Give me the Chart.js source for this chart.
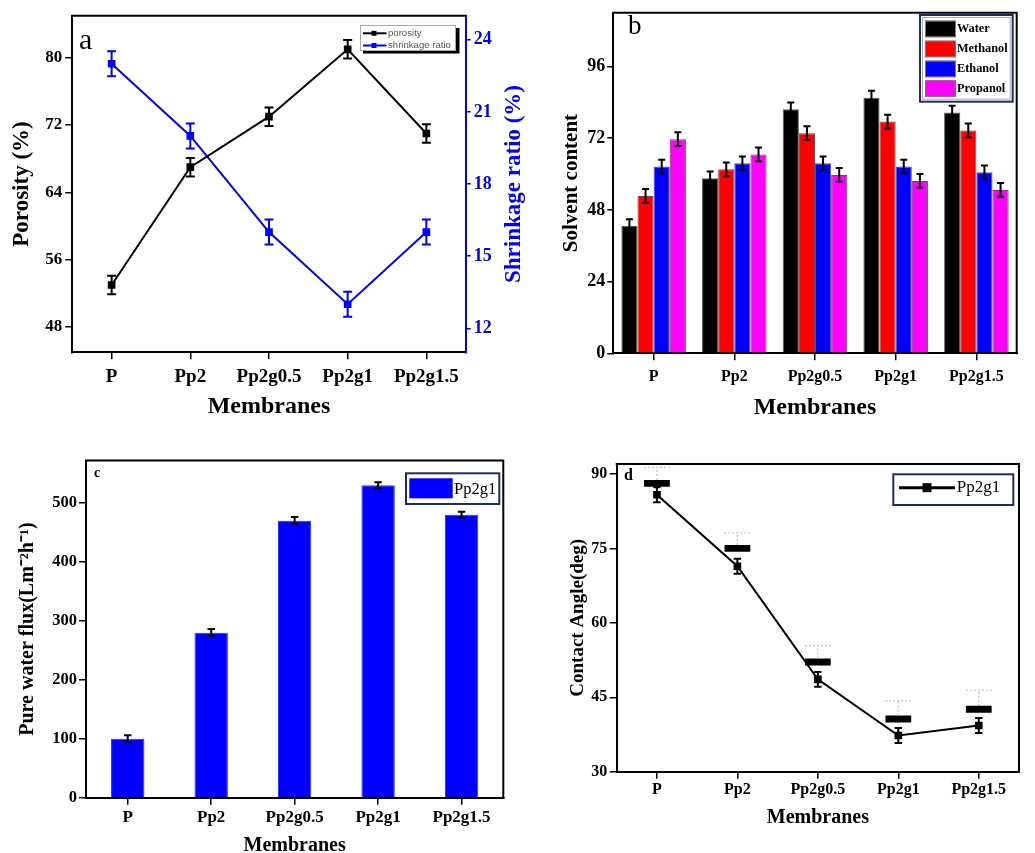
<!DOCTYPE html>
<html><head><meta charset="utf-8">
<script src="https://cdn.jsdelivr.net/npm/chart.js@4.4.0/dist/chart.umd.min.js"></script>
<style>
html,body{margin:0;padding:0;background:#fff;overflow:hidden;width:1035px;height:853px;}
canvas{position:absolute;}
</style>
</head><body>
<canvas id="ca" width="540" height="430" style="left:0;top:0"></canvas>
<canvas id="cb" width="495" height="430" style="left:540px;top:0"></canvas>
<canvas id="cc" width="540" height="440" style="left:0;top:430px"></canvas>
<canvas id="cd" width="495" height="440" style="left:540px;top:430px"></canvas>
<script>
// ---------- DATA ----------
const categories = ['P', 'Pp2', 'Pp2g0.5', 'Pp2g1', 'Pp2g1.5'];

// panel a
const porosity = [53, 67, 73, 81, 71];
const porosityErr = [1.1, 1.1, 1.1, 1.1, 1.1];
const shrinkage = [23, 20, 16, 13, 16];
const shrinkageErr = [0.52, 0.52, 0.52, 0.52, 0.52];
const porosityTicks = [48, 56, 64, 72, 80];
const shrinkageTicks = [12, 15, 18, 21, 24];

// panel b
const water = [42.6, 58.6, 81.7, 85.6, 80.6];
const methanol = [52.7, 61.6, 73.7, 77.6, 74.6];
const ethanol = [62.5, 63.6, 63.6, 62.5, 60.6];
const propanol = [71.7, 66.6, 59.7, 57.7, 54.7];
const solventErr = [2.3, 2.3, 2.3, 2.3, 2.3];
const solventTicks = [0, 24, 48, 72, 96];

// panel c
const flux = [100, 280, 470, 530, 480];
const fluxErr = [6, 6, 6, 5, 5];
const fluxTicks = [0, 100, 200, 300, 400, 500];

// panel d
const contactAngle = [85.8, 71.4, 48.6, 37.3, 39.3];
const contactAngleErr = [1.5, 1.5, 1.5, 1.5, 1.5];
const angleBox = [88.1, 75.0, 52.1, 40.6, 42.6];
const angleBoxWhisker = [91.3, 78.1, 55.4, 44.3, 46.4];
const angleTicks = [30, 45, 60, 75, 90];

// ---------- HELPERS ----------
const SERIF = '"Liberation Serif", "Times New Roman", serif';
const SANS = '"Liberation Sans", Arial, sans-serif';
Chart.defaults.color = '#000';
Chart.defaults.font.family = SERIF;
Chart.defaults.animation = false;
Chart.defaults.plugins.tooltip.enabled = false;
Chart.defaults.plugins.legend.display = false;

const BLUE = '#0000ff';

function tickGrid(len, color) {
  return {display: true, drawOnChartArea: false, drawTicks: true, tickLength: len,
          color: color || '#000', lineWidth: 1.5, offset: false};
}
function border(color) { return {display: true, color: color || '#000', width: 2}; }
function fixedTicks(arr) { return function (s) { s.ticks = arr.map(v => ({value: v})); }; }
function bold(size) { return {family: SERIF, size: size, weight: 'bold'}; }

const errorBarPlugin = {
  id: 'errbars',
  afterDatasetsDraw(chart) {
    const ctx = chart.ctx;
    chart.data.datasets.forEach((ds, di) => {
      const eb = ds.errorBars; if (!eb) return;
      const meta = chart.getDatasetMeta(di);
      const scale = chart.scales[meta.yAxisID];
      ctx.save();
      ctx.strokeStyle = eb.color; ctx.lineWidth = eb.width || 1.5;
      if (eb.dash) ctx.setLineDash(eb.dash);
      meta.data.forEach((el, i) => {
        const raw = ds.data[i];
        const v = Array.isArray(raw) ? raw[1] : raw;
        let lo, hi;
        if (eb.upper) { lo = v; hi = eb.upper[i]; } else { lo = v - eb.err[i]; hi = v + eb.err[i]; }
        const x = el.x, y1 = scale.getPixelForValue(lo), y2 = scale.getPixelForValue(hi);
        const c = eb.cap;
        ctx.beginPath();
        ctx.moveTo(x, y1); ctx.lineTo(x, y2);
        if (!eb.upper) { ctx.moveTo(x - c, y1); ctx.lineTo(x + c, y1); }
        ctx.moveTo(x - c, y2); ctx.lineTo(x + c, y2);
        ctx.stroke();
      });
      ctx.restore();
    });
  }
};

function deco(draw) {
  return {id: 'deco', afterDraw(chart) { const ctx = chart.ctx; ctx.save(); draw(ctx, chart); ctx.restore(); }};
}
function frame(ctx, ca, drawRight) {
  ctx.strokeStyle = '#000'; ctx.lineWidth = 2;
  ctx.beginPath();
  ctx.moveTo(ca.left - 1, ca.top); ctx.lineTo(ca.right + 1, ca.top);
  if (drawRight) { ctx.moveTo(ca.right, ca.top); ctx.lineTo(ca.right, ca.bottom + 1); }
  ctx.stroke();
}
function text(ctx, str, x, y, font, color, align, rot) {
  ctx.save();
  ctx.font = font; ctx.fillStyle = color || '#000';
  ctx.textAlign = align || 'left'; ctx.textBaseline = 'middle';
  ctx.translate(x, y); if (rot) ctx.rotate(rot);
  ctx.fillText(str, 0, 0);
  ctx.restore();
}

// ---------- PANEL A ----------
new Chart(document.getElementById('ca'), {
  type: 'line',
  data: {
    labels: categories,
    datasets: [
      {label: 'porosity', data: porosity, yAxisID: 'y', borderColor: '#000', backgroundColor: '#000',
       borderWidth: 2, pointStyle: 'rect', pointRadius: 4, tension: 0,
       errorBars: {err: porosityErr, color: '#000', cap: 4.5, width: 2}},
      {label: 'shrinkage ratio', data: shrinkage, yAxisID: 'y1', borderColor: BLUE, backgroundColor: BLUE,
       borderWidth: 2, pointStyle: 'rect', pointRadius: 4, tension: 0,
       errorBars: {err: shrinkageErr, color: BLUE, cap: 4.5, width: 2}}
    ]
  },
  options: {
    responsive: false,
    layout: {padding: {top: 15.7, left: 0, right: 0, bottom: 0}},
    scales: {
      x: {type: 'category', offset: true, grid: tickGrid(7), border: border(),
          ticks: {font: bold(19), padding: 6, maxRotation: 0, autoSkip: false},
          title: {display: true, text: 'Membranes', font: bold(24), padding: {top: 0, bottom: 9}},
          afterFit(s) { s.height = 77.7; }},
      y: {position: 'left', min: 45, max: 85, afterBuildTicks: fixedTicks(porosityTicks),
          grid: tickGrid(7), border: border(),
          ticks: {font: bold(17), padding: 3},
          title: {display: true, text: 'Porosity (%)', font: bold(23), padding: {top: 8.5, bottom: 0}},
          afterFit(s) { s.width = 72.3; }},
      y1: {position: 'right', min: 11, max: 25, afterBuildTicks: fixedTicks(shrinkageTicks),
           grid: tickGrid(5, BLUE), border: border(BLUE),
           ticks: {font: bold(18), padding: 3, color: BLUE},
           afterFit(s) { s.width = 74.3; }}
    }
  },
  plugins: [errorBarPlugin, deco((ctx, chart) => {
    const ca = chart.chartArea;
    frame(ctx, ca, false);
    text(ctx, 'Shrinkage ratio (%)', 514, (ca.top + ca.bottom) / 2, 'bold 23px ' + SERIF, BLUE, 'center', -Math.PI / 2);
    text(ctx, 'a', 79, 41, '30px ' + SERIF, '#000', 'left');
    // legend
    ctx.fillStyle = '#000'; ctx.fillRect(363, 28, 96.5, 25.5);
    ctx.fillStyle = '#fff'; ctx.fillRect(360, 25, 96, 26);
    ctx.strokeStyle = '#aaa'; ctx.lineWidth = 1; ctx.strokeRect(360.5, 25.5, 95, 25);
    const rows = [['porosity', '#000', 33.3], ['shrinkage ratio', BLUE, 45.5]];
    rows.forEach(r => {
      ctx.strokeStyle = r[1]; ctx.lineWidth = 2;
      ctx.beginPath(); ctx.moveTo(363, r[2]); ctx.lineTo(386.5, r[2]); ctx.stroke();
      ctx.fillStyle = r[1]; ctx.fillRect(371.5, r[2] - 2.5, 5, 5);
      text(ctx, r[0], 388, r[2], '9.6px ' + SANS, '#555', 'left');
    });
  })]
});

// ---------- PANEL B ----------
function solventDs(label, data, color) {
  return {label: label, data: data, backgroundColor: color, borderColor: '#555', borderWidth: 1,
          categoryPercentage: 0.8, barPercentage: 1.0,
          errorBars: {err: solventErr, color: '#000', cap: 3.5, width: 2}};
}
new Chart(document.getElementById('cb'), {
  type: 'bar',
  data: {
    labels: categories,
    datasets: [
      solventDs('Water', water, '#000000'),
      solventDs('Methanol', methanol, '#ff0000'),
      solventDs('Ethanol', ethanol, '#0000ff'),
      solventDs('Propanol', propanol, '#ff00ff')
    ]
  },
  options: {
    responsive: false,
    layout: {padding: {top: 11.7, left: 0, right: 18.3, bottom: 0}},
    scales: {
      x: {type: 'category', offset: true, grid: tickGrid(7), border: border(),
          ticks: {font: bold(16), padding: 6.8, maxRotation: 0, autoSkip: false},
          title: {display: true, text: 'Membranes', font: bold(24), padding: {top: 0, bottom: 8.3}},
          afterFit(s) { s.height = 76.7; }},
      y: {position: 'left', min: 0, max: 114, afterBuildTicks: fixedTicks(solventTicks),
          grid: tickGrid(6), border: border(),
          ticks: {font: bold(18), padding: 2},
          title: {display: true, text: 'Solvent content', font: bold(21), padding: {top: 19, bottom: 0}},
          afterFit(s) { s.width = 73.3; }}
    }
  },
  plugins: [errorBarPlugin, deco((ctx, chart) => {
    const ca = chart.chartArea;
    frame(ctx, ca, true);
    text(ctx, 'b', 88, 27, '27px ' + SERIF, '#000', 'left');
    // legend
    ctx.fillStyle = '#fff'; ctx.fillRect(380, 15, 92.7, 86.7);
    ctx.strokeStyle = '#1f2d5a'; ctx.lineWidth = 2; ctx.strokeRect(380, 15, 92.7, 86.7);
    ctx.strokeStyle = '#aab'; ctx.lineWidth = 1; ctx.strokeRect(382.5, 17.5, 87.7, 81.7);
    const items = [['Water', '#000000', 20.7], ['Methanol', '#ff0000', 40.7], ['Ethanol', '#0000ff', 60.7], ['Propanol', '#ff00ff', 80.3]];
    items.forEach(it => {
      ctx.fillStyle = it[1]; ctx.fillRect(385, it[2], 31, 16.5);
      ctx.strokeStyle = '#777'; ctx.lineWidth = 1; ctx.strokeRect(385.5, it[2] + 0.5, 30, 15.5);
      text(ctx, it[0], 417, it[2] + 8.5, 'bold 12.3px ' + SERIF, '#000', 'left');
    });
  })]
});

// ---------- PANEL C ----------
new Chart(document.getElementById('cc'), {
  type: 'bar',
  data: {
    labels: categories,
    datasets: [
      {label: 'Pp2g1', data: flux, backgroundColor: BLUE, borderColor: '#2a2aff', borderWidth: 1,
       categoryPercentage: 1.0, barPercentage: 0.4,
       errorBars: {err: fluxErr, color: '#000', cap: 3.7, width: 2}}
    ]
  },
  options: {
    responsive: false,
    layout: {padding: {top: 30.5, left: 0, right: 36.7, bottom: 0}},
    scales: {
      x: {type: 'category', offset: true, grid: tickGrid(7), border: border(),
          ticks: {font: bold(17), padding: 2.8, maxRotation: 0, autoSkip: false},
          title: {display: true, text: 'Membranes', font: bold(20), padding: {top: 0, bottom: 12}},
          afterFit(s) { s.height = 72.3; }},
      y: {position: 'left', min: 0, max: 572, afterBuildTicks: fixedTicks(fluxTicks),
          grid: tickGrid(7), border: border(),
          ticks: {font: bold(16.5), padding: 2},
          title: {display: true, text: 'Pure water flux(Lm\u207B\u00B2h\u207B\u00B9)', font: bold(20), padding: {top: 16.3, bottom: 0}},
          afterFit(s) { s.width = 86; }}
    }
  },
  plugins: [errorBarPlugin, deco((ctx, chart) => {
    const ca = chart.chartArea;
    frame(ctx, ca, true);
    text(ctx, 'c', 94, 43.5, 'bold 14px ' + SERIF, '#000', 'left');
    ctx.fillStyle = '#fff'; ctx.fillRect(406, 43.3, 93.3, 30.7);
    ctx.strokeStyle = '#1f2d5a'; ctx.lineWidth = 2; ctx.strokeRect(406, 43.3, 93.3, 30.7);
    ctx.fillStyle = BLUE; ctx.fillRect(409.3, 48.3, 43.4, 20);
    text(ctx, 'Pp2g1', 454, 59.3, '16.5px ' + SERIF, '#000', 'left');
  })]
});

// ---------- PANEL D ----------
new Chart(document.getElementById('cd'), {
  type: 'line',
  data: {
    labels: categories,
    datasets: [
      {label: 'Pp2g1', data: contactAngle, borderColor: '#000', backgroundColor: '#000', borderWidth: 2,
       pointStyle: 'rect', pointRadius: 4, tension: 0,
       errorBars: {err: contactAngleErr, color: '#000', cap: 3.7, width: 2}},
      {type: 'bar', label: 'box', data: angleBox.map(v => [v - 0.7, v + 0.7]), backgroundColor: '#000',
       borderWidth: 0, categoryPercentage: 1.0, barPercentage: 0.32,
       errorBars: {upper: angleBoxWhisker, color: '#c8c8c8', cap: 13, width: 1.5, dash: [2, 2]}}
    ]
  },
  options: {
    responsive: false,
    layout: {padding: {top: 34, left: 0, right: 16, bottom: 0}},
    scales: {
      x: {type: 'category', offset: true, grid: tickGrid(7), border: border(),
          ticks: {font: bold(16), padding: 1.7, maxRotation: 0, autoSkip: false},
          title: {display: true, text: 'Membranes', font: bold(20), padding: {top: 0, bottom: 39.7}},
          afterFit(s) { s.height = 98.3; }},
      y: {position: 'left', min: 30, max: 92, afterBuildTicks: fixedTicks(angleTicks),
          grid: tickGrid(7), border: border(),
          ticks: {font: bold(16), padding: 2.4},
          title: {display: true, text: 'Contact Angle(deg)', font: bold(19), padding: {top: 26.6, bottom: 0}},
          afterFit(s) { s.width = 76.7; }}
    }
  },
  plugins: [errorBarPlugin, deco((ctx, chart) => {
    const ca = chart.chartArea;
    frame(ctx, ca, true);
    text(ctx, 'd', 84, 46, 'bold 16px ' + SERIF, '#000', 'left');
    ctx.fillStyle = '#fff'; ctx.fillRect(353.3, 44.3, 120, 30.7);
    ctx.strokeStyle = '#1f2d5a'; ctx.lineWidth = 2; ctx.strokeRect(353.3, 44.3, 120, 30.7);
    ctx.strokeStyle = '#000'; ctx.lineWidth = 3;
    ctx.beginPath(); ctx.moveTo(359, 57.7); ctx.lineTo(415, 57.7); ctx.stroke();
    ctx.fillStyle = '#000'; ctx.fillRect(382.5, 53.2, 9, 9);
    text(ctx, 'Pp2g1', 416.7, 57.7, '17px ' + SERIF, '#000', 'left');
  })]
});
</script>
</body></html>
